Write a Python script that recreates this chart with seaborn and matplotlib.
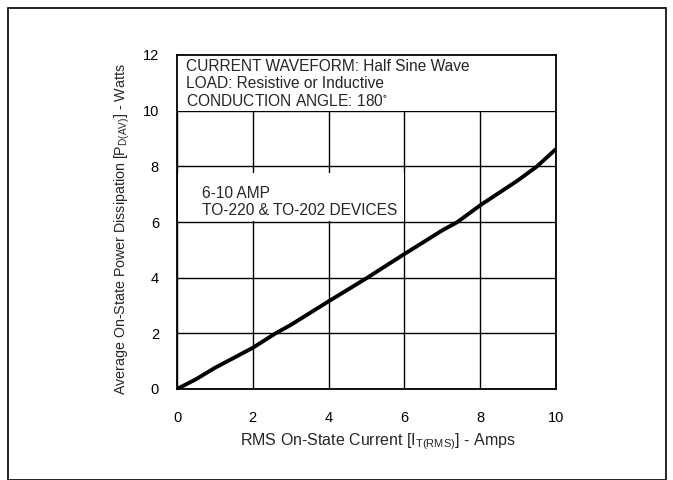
import matplotlib
matplotlib.use("Agg")
import matplotlib.pyplot as plt
import matplotlib.patches as mpatches
import seaborn as sns
import pandas as pd

# Data
current_rms = [0.0, 0.5, 1.0, 1.5, 2.0, 2.6, 3.0, 4.0, 5.0, 6.0, 7.0, 7.4, 8.0, 8.5, 9.0, 9.5, 10.0]
power_av = [0.0, 0.35, 0.76, 1.12, 1.48, 2.0, 2.3, 3.15, 3.98, 4.85, 5.7, 6.0, 6.6, 7.05, 7.5, 8.0, 8.62]

x_ticks = [0, 2, 4, 6, 8, 10]
y_ticks = [0, 2, 4, 6, 8, 10, 12]

header_lines = ["CURRENT WAVEFORM: Half Sine Wave",
                "LOAD: Resistive or Inductive",
                "CONDUCTION ANGLE: 180$^{\\circ}$"]
header_y = [11.57, 10.96, 10.35]
device_lines = ["6-10 AMP", "TO-220 & TO-202 DEVICES"]
device_y = [7.04, 6.43]

x_label = r"RMS On-State Current [I$_{\mathrm{T(RMS)}}$] - Amps"
y_label = r"Average On-State Power Dissipation [P$_{\mathrm{D(AV)}}$] - Watts"

df = pd.DataFrame({"I": current_rms, "P": power_av})

sns.set_theme(style="white")
plt.rcParams["font.family"] = ["Liberation Sans", "DejaVu Sans"]
plt.rcParams["mathtext.fontset"] = "custom"
plt.rcParams["mathtext.rm"] = "Liberation Sans"
plt.rcParams["mathtext.it"] = "Liberation Sans"
plt.rcParams["mathtext.default"] = "regular"

fig = plt.figure(figsize=(6.73, 4.80), dpi=100)
ax = fig.add_axes([177 / 673, 1 - 389 / 480, (556 - 177) / 673, (389 - 55) / 480])

# outer frame of the figure
fig.patches.append(mpatches.Rectangle((8 / 673, 0.0), (666 - 8) / 673, (480 - 8) / 480,
                                      transform=fig.transFigure, fill=False,
                                      edgecolor="black", linewidth=1.2))

ax.set_xlim(0, 10)
ax.set_ylim(0, 12)
ax.set_xticks(x_ticks)
ax.set_yticks(y_ticks)
ax.grid(True, color="black", linewidth=1.0, zorder=1)
ax.set_axisbelow(True)
for s in ax.spines.values():
    s.set_color("black")
    s.set_linewidth(1.3)
    s.set_zorder(5)

# white panels behind the annotations
ax.add_patch(mpatches.Rectangle((0, 10), 10, 2, facecolor="white", edgecolor="none", zorder=2))
ax.add_patch(mpatches.Rectangle((0.02, 6.03), 5.96, 1.72, facecolor="white", edgecolor="none", zorder=2))

sns.lineplot(data=df, x="I", y="P", ax=ax, color="black", linewidth=2.8, zorder=4)

ax.tick_params(axis="both", length=0, labelsize=10.5, colors="black")
ax.tick_params(axis="x", pad=16)
ax.tick_params(axis="y", pad=13)

ax.set_xlabel(x_label, fontsize=11.5)
ax.set_ylabel(y_label, fontsize=10.3)
ax.xaxis.set_label_coords(0.53, -0.159)
ax.yaxis.set_label_coords(-0.145, 0.479)
ax.xaxis.label.set_va("center")
ax.yaxis.label.set_va("center")

for txt, yy in zip(header_lines, header_y):
    ax.text(0.24, yy, txt, fontsize=11.2, va="center", ha="left", zorder=6)
for txt, yy in zip(device_lines, device_y):
    ax.text(0.65, yy, txt, fontsize=11.2, va="center", ha="left", zorder=6)

fig.savefig("out.png", dpi=100)
